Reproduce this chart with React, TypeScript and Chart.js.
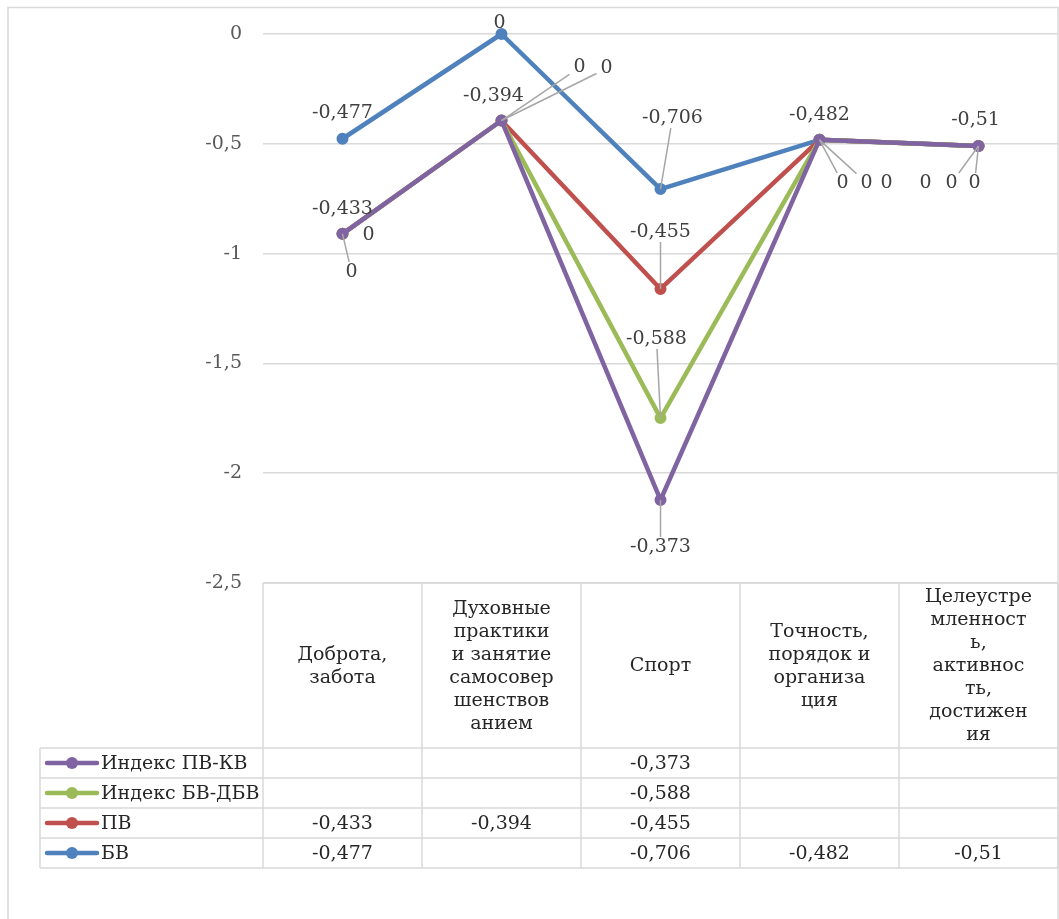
import React, { useEffect, useRef } from "react";
import { Chart, registerables } from "chart.js";

Chart.register(...registerables);

// ---- data ----
const categories: string[][] = [
  ["Доброта,", "забота"],
  ["Духовные", "практики", "и занятие", "самосовер", "шенствов", "анием"],
  ["Спорт"],
  ["Точность,", "порядок и", "организа", "ция"],
  ["Целеустре", "мленност", "ь,", "активнос", "ть,", "достижен", "ия"],
];
const seriesNames = ["БВ", "ПВ", "Индекс БВ-ДБВ", "Индекс ПВ-КВ"];
const bvValues: (number | null)[] = [-0.477, null, -0.706, -0.482, -0.51];
const pvValues: (number | null)[] = [-0.433, -0.394, -0.455, null, null];
const bvDbvValues: (number | null)[] = [null, null, -0.588, null, null];
const pvKvValues: (number | null)[] = [null, null, -0.373, null, null];
const yMin = -2.5;
const yMax = 0;
const yStep = 0.5;

// ---- style ----
const seriesColors = ["#4F81BD", "#C0504D", "#9BBB59", "#8064A2"];
const FONT = "DejaVu Serif";
const FS = 19;
const gridColor = "#d9d9d9";
// label placement (dx, dy from point, leader line) per series / category
const labelPlacement: [number, number, boolean][][] = [
  [[0, -26, false], [-2, -11, false], [12, -71, true], [0, -25, false], [-3, -26, false]],
  [[0, -25, false], [-8, -24, false], [0, -57, true], [23, 43, true], [-53, 37, false]],
  [[26, 1, false], [78, -53, true], [-4, -79, true], [47, 43, true], [-27, 37, true]],
  [[9, 38, true], [105, -52, true], [0, 47, true], [67, 43, false], [-4, 37, true]],
];
const HEADER_H = 165;
const ROW_H = 30;
const LEGEND_LEFT = 40;

const allSeries = [bvValues, pvValues, bvDbvValues, pvKvValues];
const fmt = (v: number) => String(v).replace(".", ",");

export default function App() {
  const ref = useRef<HTMLCanvasElement | null>(null);
  useEffect(() => {
    const canvas = ref.current!;
    const drawOrder = {
      id: "drawOrder",
      beforeDatasetsDraw(chart: any) {
        for (let i = 0; i < chart.data.datasets.length; i++) {
          chart.getDatasetMeta(i).controller.draw();
        }
        return false;
      },
    };
    const extras = {
      id: "extras",
      afterDraw(chart: any) {
        const ctx = chart.ctx as CanvasRenderingContext2D;
        const ca = chart.chartArea;
        const xs = chart.scales.x;
        ctx.save();
        // outer border
        ctx.strokeStyle = gridColor;
        ctx.lineWidth = 1.5;
        ctx.strokeRect(8, 7.5, 1050, 1000);

        // data labels
        ctx.font = `${FS}px "${FONT}"`;
        ctx.textAlign = "center";
        ctx.textBaseline = "middle";
        for (let i = 0; i < allSeries.length; i++) {
          const meta = chart.getDatasetMeta(i);
          allSeries[i].forEach((v, j) => {
            const pt = meta.data[j];
            const [dx, dy, leader] = labelPlacement[i][j];
            const text = fmt(v ?? 0);
            const lx = pt.x + dx;
            const ly = pt.y + dy;
            if (leader) {
              const w = ctx.measureText(text).width / 2 + 4;
              const h = 10;
              const vx = pt.x - lx;
              const vy = pt.y - ly;
              const t = Math.min(
                vx !== 0 ? w / Math.abs(vx) : Infinity,
                vy !== 0 ? h / Math.abs(vy) : Infinity
              );
              ctx.strokeStyle = "#a6a6a6";
              ctx.lineWidth = 1.5;
              ctx.beginPath();
              ctx.moveTo(pt.x, pt.y);
              ctx.lineTo(lx + vx * t, ly + vy * t);
              ctx.stroke();
            }
            ctx.fillStyle = "#404040";
            ctx.fillText(text, lx, ly);
          });
        }

        // data table
        const half = (xs.getPixelForValue(1) - xs.getPixelForValue(0)) / 2;
        const top = ca.bottom;
        const headBottom = top + HEADER_H;
        const bottom = headBottom + ROW_H * seriesNames.length;
        ctx.strokeStyle = gridColor;
        ctx.lineWidth = 1.5;
        ctx.beginPath();
        ctx.moveTo(ca.left, top);
        ctx.lineTo(ca.right, top);
        for (let r = 0; r <= seriesNames.length; r++) {
          const y = headBottom + r * ROW_H;
          ctx.moveTo(LEGEND_LEFT, y);
          ctx.lineTo(ca.right, y);
        }
        ctx.moveTo(LEGEND_LEFT, headBottom);
        ctx.lineTo(LEGEND_LEFT, bottom);
        for (let j = 0; j <= categories.length; j++) {
          const x = j < categories.length ? xs.getPixelForValue(j) - half : ca.right;
          ctx.moveTo(x, top);
          ctx.lineTo(x, bottom);
        }
        ctx.stroke();

        // header
        ctx.fillStyle = "#262626";
        ctx.textAlign = "center";
        const lh = 23;
        categories.forEach((lines, j) => {
          const cx = xs.getPixelForValue(j);
          const cy = (top + headBottom) / 2 + 1;
          lines.forEach((ln, k) => {
            ctx.fillText(ln, cx, cy + (k - (lines.length - 1) / 2) * lh);
          });
        });

        // rows (reverse series order)
        for (let r = 0; r < seriesNames.length; r++) {
          const si = seriesNames.length - 1 - r;
          const cy = headBottom + r * ROW_H + ROW_H / 2;
          // legend key
          ctx.strokeStyle = seriesColors[si];
          ctx.lineWidth = 4.5;
          ctx.lineCap = "round";
          ctx.beginPath();
          ctx.moveTo(47, cy);
          ctx.lineTo(97, cy);
          ctx.stroke();
          ctx.fillStyle = seriesColors[si];
          ctx.beginPath();
          ctx.arc(72, cy, 6, 0, Math.PI * 2);
          ctx.fill();
          ctx.fillStyle = "#262626";
          ctx.textAlign = "left";
          ctx.fillText(seriesNames[si], 101, cy + 1);
          ctx.textAlign = "center";
          allSeries[si].forEach((v, j) => {
            if (v === null) return;
            ctx.fillText(fmt(v), xs.getPixelForValue(j), cy + 1);
          });
        }
        ctx.restore();
      },
    };

    const chart = new Chart(canvas, {
      type: "line",
      data: {
        labels: categories.map((c) => c.join(" ")),
        datasets: allSeries.map((vals, i) => ({
          label: seriesNames[i],
          data: vals.map((v) => v ?? 0),
          borderColor: seriesColors[i],
          backgroundColor: seriesColors[i],
          pointBackgroundColor: seriesColors[i],
          pointBorderColor: seriesColors[i],
          borderWidth: 4.5,
          pointRadius: 5,
          pointBorderWidth: 2,
          borderJoinStyle: "round",
          borderCapStyle: "round",
          tension: 0,
          clip: false,
        })),
      },
      options: {
        responsive: false,
        animation: false,
        devicePixelRatio: 1,
        layout: { autoPadding: false, padding: { top: 34, bottom: 919 - 583, right: 1, left: 0 } },
        plugins: { legend: { display: false }, tooltip: { enabled: false } },
        scales: {
          x: { display: false, offset: true, ticks: { display: false } },
          y: {
            stacked: true,
            min: yMin,
            max: yMax,
            afterFit(scale: any) {
              scale.width = 263;
            },
            border: { display: false },
            grid: { color: gridColor, lineWidth: 1.5, drawTicks: false },
            ticks: {
              stepSize: yStep,
              padding: 21,
              color: "#595959",
              font: { family: FONT, size: FS },
              callback: (v: any) => fmt(Number(v)),
            },
          },
        },
      } as any,
      plugins: [drawOrder, extras],
    });
    return () => chart.destroy();
  }, []);
  return (
    <div style={{ position: "fixed", left: 0, top: 0, width: 1059, height: 919, background: "#fff" }}>
      <canvas ref={ref} width={1059} height={919} style={{ display: "block" }} />
    </div>
  );
}
